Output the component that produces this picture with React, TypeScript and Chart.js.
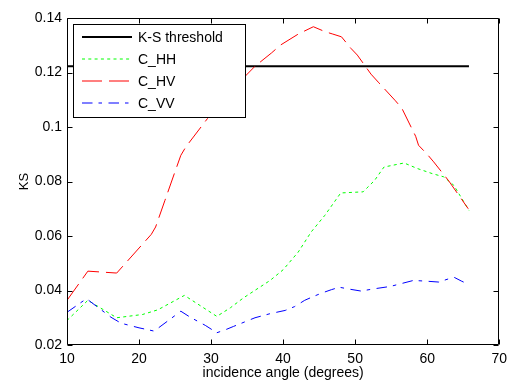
import { useEffect, useRef } from 'react';
import { Chart, registerables } from 'chart.js';

Chart.register(...registerables);

const FONT = '"Liberation Sans", Arial, Helvetica, sans-serif';

const thresholdAngles = [10, 65.8];
const thresholdValues = [0.1223, 0.1223];

const hhAngles = [10, 12.9, 16.9, 20.5, 22.6, 26.3, 30.8, 32.7, 34.5, 38.2, 40.0, 42.1, 43.9, 45.8, 48.0, 51.1, 52.7, 54.0, 56.8, 58.6, 60.7, 62.3, 63.7, 65.8];
const hhValues = [0.0290, 0.0364, 0.0300, 0.0312, 0.0329, 0.0382, 0.0305, 0.0337, 0.0373, 0.0437, 0.0476, 0.0541, 0.0615, 0.0676, 0.0758, 0.0762, 0.0804, 0.0853, 0.0868, 0.0848, 0.0829, 0.0817, 0.0786, 0.0694];

const hvAngles = [10, 12.9, 16.9, 21.7, 22.3, 23.6, 24.9, 25.8, 26.5, 29.5, 32.9, 34.5, 36.1, 38.4, 39.6, 42.1, 44.2, 45.8, 46.9, 48.1, 49.4, 50.3, 52.2, 53.3, 55.6, 56.5, 57.8, 58.4, 58.8, 60.0, 60.9, 63.0, 65.7];
const hvValues = [0.0364, 0.0471, 0.0464, 0.0606, 0.0633, 0.0731, 0.0829, 0.0896, 0.0927, 0.1031, 0.1123, 0.1180, 0.1223, 0.1272, 0.1300, 0.1341, 0.1368, 0.1350, 0.1341, 0.1331, 0.1289, 0.1264, 0.1194, 0.1162, 0.1096, 0.1068, 0.0998, 0.0966, 0.0933, 0.0900, 0.0872, 0.0802, 0.0700];

const vvAngles = [10, 12.7, 16.1, 17.5, 20.0, 22.1, 25.8, 27.1, 29.2, 30.8, 32.0, 33.1, 36.1, 38.2, 40.3, 41.6, 43.0, 44.2, 45.3, 46.7, 47.8, 49.2, 50.8, 52.6, 54.9, 58.1, 60.0, 61.6, 62.3, 63.7, 64.8, 65.8];
const vvValues = [0.0320, 0.0370, 0.0302, 0.0280, 0.0263, 0.0251, 0.0324, 0.0302, 0.0272, 0.0245, 0.0256, 0.0268, 0.0300, 0.0315, 0.0327, 0.0341, 0.0364, 0.0378, 0.0390, 0.0403, 0.0412, 0.0405, 0.0398, 0.0406, 0.0415, 0.0437, 0.0434, 0.0431, 0.0437, 0.0449, 0.0434, 0.0422];

const xTicks = [10, 20, 30, 40, 50, 60, 70];
const yTicks = [0.02, 0.04, 0.06, 0.08, 0.1, 0.12, 0.14];
const yTickLabels = ['0.02', '0.04', '0.06', '0.08', '0.1', '0.12', '0.14'];

const seriesLabels = ['K-S threshold', 'C_HH', 'C_HV', 'C_VV'];
const seriesColors = ['#000000', '#00ff00', '#ff0000', '#0000ff'];
const seriesWidths = [2, 1, 1, 1];
const seriesDashes: number[][] = [[], [3, 3.3], [20, 7], [10.5, 6, 3.5, 6.5]];

const toPoints = (xs: number[], ys: number[]) => xs.map((x, i) => ({ x, y: ys[i] }));

const framePlugin = {
  id: 'matlabFrame',
  afterDatasetsDraw(chart: any) {
    const { ctx, chartArea: a, scales } = chart;
    const xs = scales.x;
    const ys = scales.y;
    const L = Math.round(a.left) + 0.5;
    const R = Math.round(a.right) - 0.5;
    const T = Math.round(a.top) + 0.5;
    const B = Math.round(a.bottom) - 0.5;
    ctx.save();
    ctx.strokeStyle = '#000';
    ctx.lineWidth = 1;
    ctx.setLineDash([]);
    ctx.beginPath();
    ctx.rect(L, T, R - L, B - T);
    ctx.stroke();
    const tl = 5;
    ctx.beginPath();
    xs.ticks.forEach((t: any) => {
      const px = Math.round(xs.getPixelForValue(t.value)) + 0.5;
      ctx.moveTo(px, B);
      ctx.lineTo(px, B - tl);
      ctx.moveTo(px, T);
      ctx.lineTo(px, T + tl);
    });
    ys.ticks.forEach((t: any) => {
      const py = Math.round(ys.getPixelForValue(t.value)) + 0.5;
      ctx.moveTo(L, py);
      ctx.lineTo(L + tl, py);
      ctx.moveTo(R, py);
      ctx.lineTo(R - tl, py);
    });
    ctx.stroke();

    // legend
    const lx = 73.5, ly = 24.5, lw = 172, lh = 93;
    ctx.fillStyle = '#fff';
    ctx.fillRect(lx, ly, lw, lh);
    ctx.strokeStyle = '#000';
    ctx.lineWidth = 1;
    ctx.strokeRect(lx, ly, lw, lh);
    const rows = [36.7, 59, 81, 103.3];
    ctx.font = `14px ${FONT}`;
    ctx.textBaseline = 'middle';
    ctx.textAlign = 'left';
    seriesLabels.forEach((label, i) => {
      const ry = rows[i];
      ctx.save();
      ctx.strokeStyle = seriesColors[i];
      ctx.lineWidth = seriesWidths[i] === 2 ? 2 : 1.2;
      ctx.setLineDash(seriesDashes[i]);
      ctx.beginPath();
      ctx.moveTo(82, Math.round(ry));
      ctx.lineTo(132, Math.round(ry));
      ctx.stroke();
      ctx.restore();
      ctx.fillStyle = '#000';
      ctx.fillText(label, 138, ry + 1);
    });
    ctx.restore();
  },
};

export default function App() {
  const ref = useRef<HTMLCanvasElement | null>(null);
  useEffect(() => {
    if (!ref.current) return;
    const series = [
      [thresholdAngles, thresholdValues],
      [hhAngles, hhValues],
      [hvAngles, hvValues],
      [vvAngles, vvValues],
    ];
    const chart = new Chart(ref.current, {
      type: 'line',
      data: {
        datasets: series.map(([xs, ys], i) => ({
          label: seriesLabels[i],
          data: toPoints(xs, ys),
          borderColor: seriesColors[i],
          borderWidth: seriesWidths[i],
          borderDash: seriesDashes[i],
          pointRadius: 0,
          tension: 0,
          fill: false,
          order: 4 - i,
        })),
      },
      options: {
        animation: false,
        responsive: false,
        maintainAspectRatio: false,
        layout: { padding: { top: 18, right: 10, left: 0, bottom: 0 } },
        plugins: { legend: { display: false }, tooltip: { enabled: false } },
        scales: {
          x: {
            type: 'linear',
            min: 10,
            max: 70,
            afterFit: (s: any) => { s.height = 36; },
            afterBuildTicks: (s: any) => { s.ticks = xTicks.map((v) => ({ value: v })); },
            grid: { display: false, drawTicks: false },
            border: { display: false },
            ticks: {
              color: '#000',
              padding: 6,
              font: { family: FONT, size: 14 },
              maxRotation: 0,
              callback: (v: any) => String(v),
            },
            title: {
              display: true,
              text: 'incidence angle (degrees)',
              color: '#000',
              font: { family: FONT, size: 14 },
              padding: { top: 0, bottom: -1 },
            },
          },
          y: {
            type: 'linear',
            min: 0.02,
            max: 0.14,
            afterFit: (s: any) => { s.width = 67; },
            afterBuildTicks: (s: any) => { s.ticks = yTicks.map((v) => ({ value: v })); },
            grid: { display: false, drawTicks: false },
            border: { display: false },
            ticks: {
              color: '#000',
              padding: 5,
              font: { family: FONT, size: 14 },
              callback: (_v: any, i: number) => yTickLabels[i],
            },
            title: {
              display: true,
              text: 'KS',
              color: '#000',
              font: { family: FONT, size: 13 },
              padding: { top: 17, bottom: 0 },
            },
          },
        },
      },
      plugins: [framePlugin],
    } as any);
    return () => chart.destroy();
  }, []);
  return (
    <div style={{ position: 'fixed', left: 0, top: 0, width: 513, height: 381, background: '#fff' }}>
      <canvas ref={ref} width={513} height={381} style={{ width: 513, height: 381, display: 'block' }} />
    </div>
  );
}
